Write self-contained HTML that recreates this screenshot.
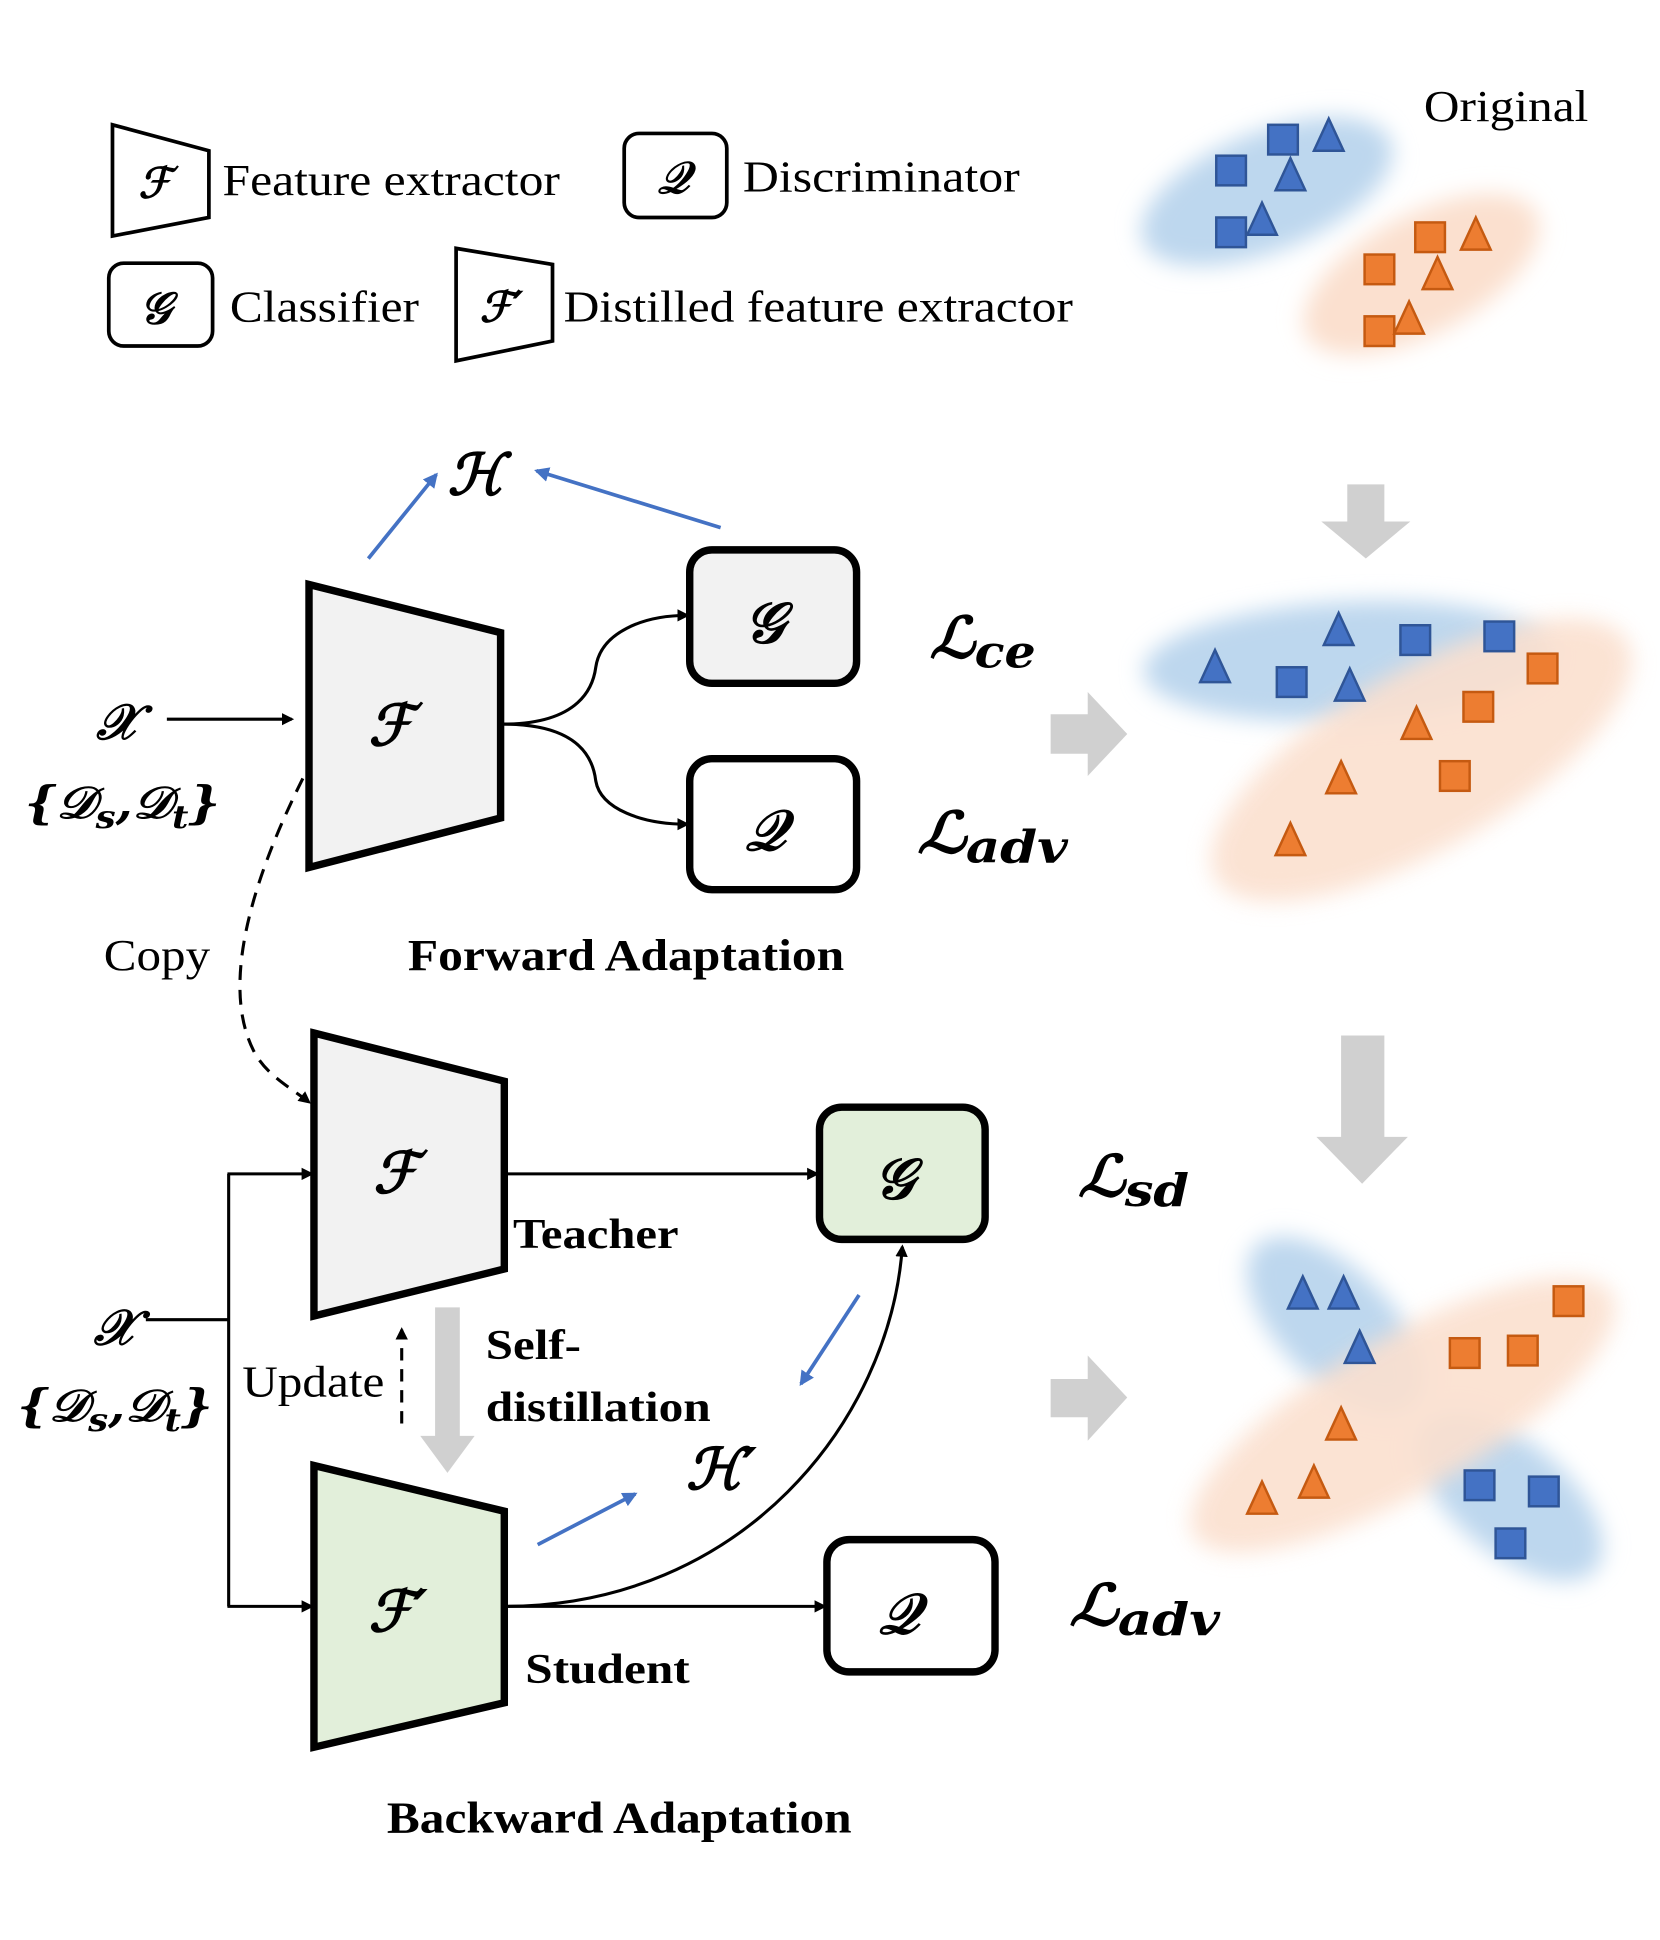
<!DOCTYPE html>
<html><head><meta charset="utf-8"><style>
html,body{margin:0;padding:0;background:#fff;}
svg{display:block;}
.t{font-family:"Liberation Serif",serif;fill:#000;}
.m{font-family:"DejaVu Serif","Liberation Serif",serif;font-style:italic;font-weight:bold;fill:#000;}
.b{font-family:"Liberation Serif",serif;font-weight:bold;fill:#000;}
</style></head><body>
<svg width="1660" height="1940" viewBox="0 0 1343 1570" preserveAspectRatio="none" xmlns="http://www.w3.org/2000/svg">
<defs>
<filter id="bl" x="-30%" y="-30%" width="160%" height="160%"><feGaussianBlur stdDeviation="9"/></filter>
<marker id="ah" markerWidth="10" markerHeight="10" refX="8" refY="5" orient="auto" markerUnits="userSpaceOnUse"><path d="M0,0 L10,5 L0,10 z" fill="#000"/></marker>
<marker id="ahb" markerWidth="12" markerHeight="12" refX="10" refY="6" orient="auto" markerUnits="userSpaceOnUse"><path d="M0,0 L12,6 L0,12 z" fill="#4472c4"/></marker>
<g id="sqb"><rect x="-12" y="-12" width="24" height="24" fill="#4472c4" stroke="#2f5597" stroke-width="2"/></g>
<g id="trb"><path d="M0,-14 L12,12 L-12,12 z" fill="#4472c4" stroke="#2f5597" stroke-width="2"/></g>
<g id="sqo"><rect x="-12" y="-12" width="24" height="24" fill="#ed7d31" stroke="#c55a11" stroke-width="2"/></g>
<g id="tro"><path d="M0,-14 L12,12 L-12,12 z" fill="#ed7d31" stroke="#c55a11" stroke-width="2"/></g>
</defs>

<!-- Legend -->
<path d="M91,101 L169,122 L169,176 L91,191 z" fill="#fff" stroke="#000" stroke-width="3"/>
<text x="112" y="160" class="m" font-size="34" font-weight="normal">ℱ</text>
<text x="180" y="158" class="t" font-size="36" textLength="273" lengthAdjust="spacingAndGlyphs">Feature extractor</text>
<rect x="505" y="108" width="83" height="68" rx="12" fill="#fff" stroke="#000" stroke-width="3"/>
<text x="532" y="156" class="m" font-size="36" font-weight="normal">𝒬</text>
<text x="601" y="155" class="t" font-size="36" textLength="224" lengthAdjust="spacingAndGlyphs">Discriminator</text>
<rect x="88" y="213" width="84" height="67" rx="12" fill="#fff" stroke="#000" stroke-width="3"/>
<text x="113" y="262" class="m" font-size="36" font-weight="normal">𝒢</text>
<text x="186" y="260" class="t" font-size="36" textLength="153" lengthAdjust="spacingAndGlyphs">Classifier</text>
<path d="M369,201 L447,214 L447,276 L369,292 z" fill="#fff" stroke="#000" stroke-width="3"/>
<text x="388" y="260" class="m" font-size="34" font-weight="normal">ℱ′</text>
<text x="456" y="260" class="t" font-size="36" textLength="412" lengthAdjust="spacingAndGlyphs">Distilled feature extractor</text>

<!-- Original cluster -->
<text x="1152" y="98" class="t" font-size="36" textLength="133" lengthAdjust="spacingAndGlyphs">Original</text>
<ellipse cx="1025" cy="155" rx="108" ry="48" transform="rotate(-22 1025 155)" fill="#bdd7ee" filter="url(#bl)"/>
<ellipse cx="1150" cy="222" rx="105" ry="48" transform="rotate(-28 1150 222)" fill="#fbe0cf" filter="url(#bl)"/>
<use href="#sqb" x="996" y="138"/><use href="#sqb" x="1038" y="113"/><use href="#sqb" x="996" y="188"/>
<use href="#trb" x="1075" y="110"/><use href="#trb" x="1044" y="142"/><use href="#trb" x="1021" y="178"/>
<use href="#sqo" x="1157" y="192"/><use href="#sqo" x="1116" y="218"/><use href="#sqo" x="1116" y="268"/>
<use href="#tro" x="1194" y="190"/><use href="#tro" x="1163" y="222"/><use href="#tro" x="1140" y="258"/>

<path d="M1090,392 L1120,392 L1120,422 L1141,422 L1105,452 L1069,422 L1090,422 z" fill="#d0d0d0"/>

<!-- middle cluster -->
<ellipse cx="1090" cy="535" rx="165" ry="48" transform="rotate(-3 1090 535)" fill="#bdd7ee" filter="url(#bl)"/>
<ellipse cx="1150" cy="615" rx="192" ry="72" transform="rotate(-30 1150 615)" fill="#fbe0cf" filter="url(#bl)" opacity="0.9"/>
<use href="#trb" x="983" y="540"/><use href="#trb" x="1083" y="510"/><use href="#trb" x="1092" y="555"/>
<use href="#sqb" x="1045" y="552"/><use href="#sqb" x="1145" y="518"/><use href="#sqb" x="1213" y="515"/>
<use href="#sqo" x="1248" y="541"/><use href="#sqo" x="1196" y="572"/><use href="#sqo" x="1177" y="628"/>
<use href="#tro" x="1146" y="586"/><use href="#tro" x="1085" y="630"/><use href="#tro" x="1044" y="680"/>

<!-- Forward adaptation -->
<path d="M250,473 L405,512 L405,662 L250,702 z" fill="#f2f2f2" stroke="#000" stroke-width="6"/>
<text x="298" y="603" class="m" font-size="46">ℱ</text>
<text x="78" y="598" class="m" font-size="40">𝒳</text>
<line x1="135" y1="582" x2="236" y2="582" stroke="#000" stroke-width="2.5" marker-end="url(#ah)"/>
<text x="20" y="662" class="m" font-size="36" font-weight="normal" textLength="158" lengthAdjust="spacingAndGlyphs">{𝒟<tspan font-size="26" dy="8">s</tspan><tspan dy="-8">,𝒟</tspan><tspan font-size="26" dy="8">t</tspan><tspan dy="-8">}</tspan></text>
<path d="M407,586 C470,586 480,555 482,540 C486,512 520,498 556,498" fill="none" stroke="#000" stroke-width="2.5" marker-end="url(#ah)"/>
<path d="M407,586 C470,586 480,615 482,632 C486,655 520,667 556,667" fill="none" stroke="#000" stroke-width="2.5" marker-end="url(#ah)"/>
<rect x="558" y="445" width="135" height="108" rx="18" fill="#f2f2f2" stroke="#000" stroke-width="6"/>
<text x="602" y="520" class="m" font-size="46">𝒢</text>
<rect x="558" y="614" width="135" height="106" rx="18" fill="#fff" stroke="#000" stroke-width="6"/>
<text x="603" y="688" class="m" font-size="46">𝒬</text>
<text x="752" y="532" class="m" font-size="46" textLength="86" lengthAdjust="spacingAndGlyphs">ℒ<tspan font-size="36" dy="8">ce</tspan></text>
<text x="742" y="690" class="m" font-size="46" textLength="122" lengthAdjust="spacingAndGlyphs">ℒ<tspan font-size="36" dy="8">adv</tspan></text>
<text x="362" y="400" class="m" font-size="46">ℋ</text>
<line x1="298" y1="452" x2="353" y2="384" stroke="#4472c4" stroke-width="3" marker-end="url(#ahb)"/>
<line x1="583" y1="427" x2="434" y2="381" stroke="#4472c4" stroke-width="3" marker-end="url(#ahb)"/>
<path d="M850,578 L880,578 L880,560 L912,594 L880,628 L880,610 L850,610 z" fill="#d0d0d0"/>
<path d="M245,630 C200,720 180,800 205,850 C215,870 235,880 250,892" fill="none" stroke="#000" stroke-width="2.5" stroke-dasharray="12,8" marker-end="url(#ah)"/>
<text x="84" y="785" class="t" font-size="36" textLength="86" lengthAdjust="spacingAndGlyphs">Copy</text>
<text x="330" y="785" class="b" font-size="36" textLength="353" lengthAdjust="spacingAndGlyphs">Forward Adaptation</text>

<path d="M1085,838 L1120,838 L1120,920 L1139,920 L1102,958 L1065,920 L1085,920 z" fill="#d0d0d0"/>

<!-- bottom cluster -->
<ellipse cx="1080" cy="1072" rx="90" ry="45" transform="rotate(45 1080 1072)" fill="#bdd7ee" filter="url(#bl)"/>
<ellipse cx="1222" cy="1212" rx="90" ry="45" transform="rotate(40 1222 1212)" fill="#bdd7ee" filter="url(#bl)"/>
<ellipse cx="1135" cy="1145" rx="195" ry="62" transform="rotate(-30 1135 1145)" fill="#fbe0cf" filter="url(#bl)" opacity="0.9"/>
<use href="#trb" x="1054" y="1047"/><use href="#trb" x="1087" y="1047"/><use href="#trb" x="1100" y="1091"/>
<use href="#sqb" x="1197" y="1202"/><use href="#sqb" x="1249" y="1207"/><use href="#sqb" x="1222" y="1249"/>
<use href="#sqo" x="1269" y="1053"/><use href="#sqo" x="1185" y="1095"/><use href="#sqo" x="1232" y="1093"/>
<use href="#tro" x="1085" y="1153"/><use href="#tro" x="1063" y="1200"/><use href="#tro" x="1021" y="1213"/>
<path d="M850,1116 L880,1116 L880,1097 L912,1131 L880,1166 L880,1147 L850,1147 z" fill="#d0d0d0"/>

<!-- Backward adaptation -->
<path d="M254,836 L408,875 L408,1027 L254,1065 z" fill="#f2f2f2" stroke="#000" stroke-width="6"/>
<text x="302" y="965" class="m" font-size="46">ℱ</text>
<line x1="408" y1="950" x2="661" y2="950" stroke="#000" stroke-width="2.5" marker-end="url(#ah)"/>
<rect x="663" y="896" width="134" height="107" rx="18" fill="#e2efda" stroke="#000" stroke-width="6"/>
<text x="707" y="970" class="m" font-size="46">𝒢</text>
<text x="415" y="1010" class="b" font-size="34" textLength="134" lengthAdjust="spacingAndGlyphs">Teacher</text>
<text x="872" y="968" class="m" font-size="46" textLength="90" lengthAdjust="spacingAndGlyphs">ℒ<tspan font-size="36" dy="8">sd</tspan></text>
<text x="76" y="1088" class="m" font-size="40">𝒳</text>
<path d="M118,1068 L185,1068" stroke="#000" stroke-width="2.5"/>
<path d="M185,950 L185,1300" stroke="#000" stroke-width="2.5" fill="none"/>
<line x1="184" y1="950" x2="252" y2="950" stroke="#000" stroke-width="2.5" marker-end="url(#ah)"/>
<line x1="184" y1="1300" x2="252" y2="1300" stroke="#000" stroke-width="2.5" marker-end="url(#ah)"/>
<text x="14" y="1150" class="m" font-size="36" font-weight="normal" textLength="158" lengthAdjust="spacingAndGlyphs">{𝒟<tspan font-size="26" dy="8">s</tspan><tspan dy="-8">,𝒟</tspan><tspan font-size="26" dy="8">t</tspan><tspan dy="-8">}</tspan></text>
<text x="196" y="1130" class="t" font-size="36" textLength="115" lengthAdjust="spacingAndGlyphs">Update</text>
<line x1="325" y1="1152" x2="325" y2="1076" stroke="#000" stroke-width="2.5" stroke-dasharray="10,7" marker-end="url(#ah)"/>
<path d="M352,1058 L372,1058 L372,1162 L384,1162 L362,1192 L340,1162 L352,1162 z" fill="#d0d0d0"/>
<text x="393" y="1100" class="b" font-size="34" textLength="77" lengthAdjust="spacingAndGlyphs">Self-</text>
<text x="393" y="1150" class="b" font-size="34" textLength="182" lengthAdjust="spacingAndGlyphs">distillation</text>
<path d="M254,1186 L408,1223 L408,1378 L254,1414 z" fill="#e2efda" stroke="#000" stroke-width="6"/>
<text x="298" y="1320" class="m" font-size="46">ℱ′</text>
<line x1="408" y1="1300" x2="667" y2="1300" stroke="#000" stroke-width="2.5" marker-end="url(#ah)"/>
<path d="M408,1300 C600,1300 720,1150 730,1009" fill="none" stroke="#000" stroke-width="2.5" marker-end="url(#ah)"/>
<rect x="669" y="1246" width="136" height="107" rx="18" fill="#fff" stroke="#000" stroke-width="6"/>
<text x="711" y="1322" class="m" font-size="46">𝒬</text>
<text x="425" y="1362" class="b" font-size="34" textLength="133" lengthAdjust="spacingAndGlyphs">Student</text>
<text x="555" y="1205" class="m" font-size="46">ℋ′</text>
<line x1="435" y1="1250" x2="514" y2="1209" stroke="#4472c4" stroke-width="3" marker-end="url(#ahb)"/>
<line x1="695" y1="1048" x2="648" y2="1120" stroke="#4472c4" stroke-width="3" marker-end="url(#ahb)"/>
<text x="865" y="1315" class="m" font-size="46" textLength="122" lengthAdjust="spacingAndGlyphs">ℒ<tspan font-size="36" dy="8">adv</tspan></text>
<text x="313" y="1483" class="b" font-size="36" textLength="376" lengthAdjust="spacingAndGlyphs">Backward Adaptation</text>
</svg>
</body></html>
